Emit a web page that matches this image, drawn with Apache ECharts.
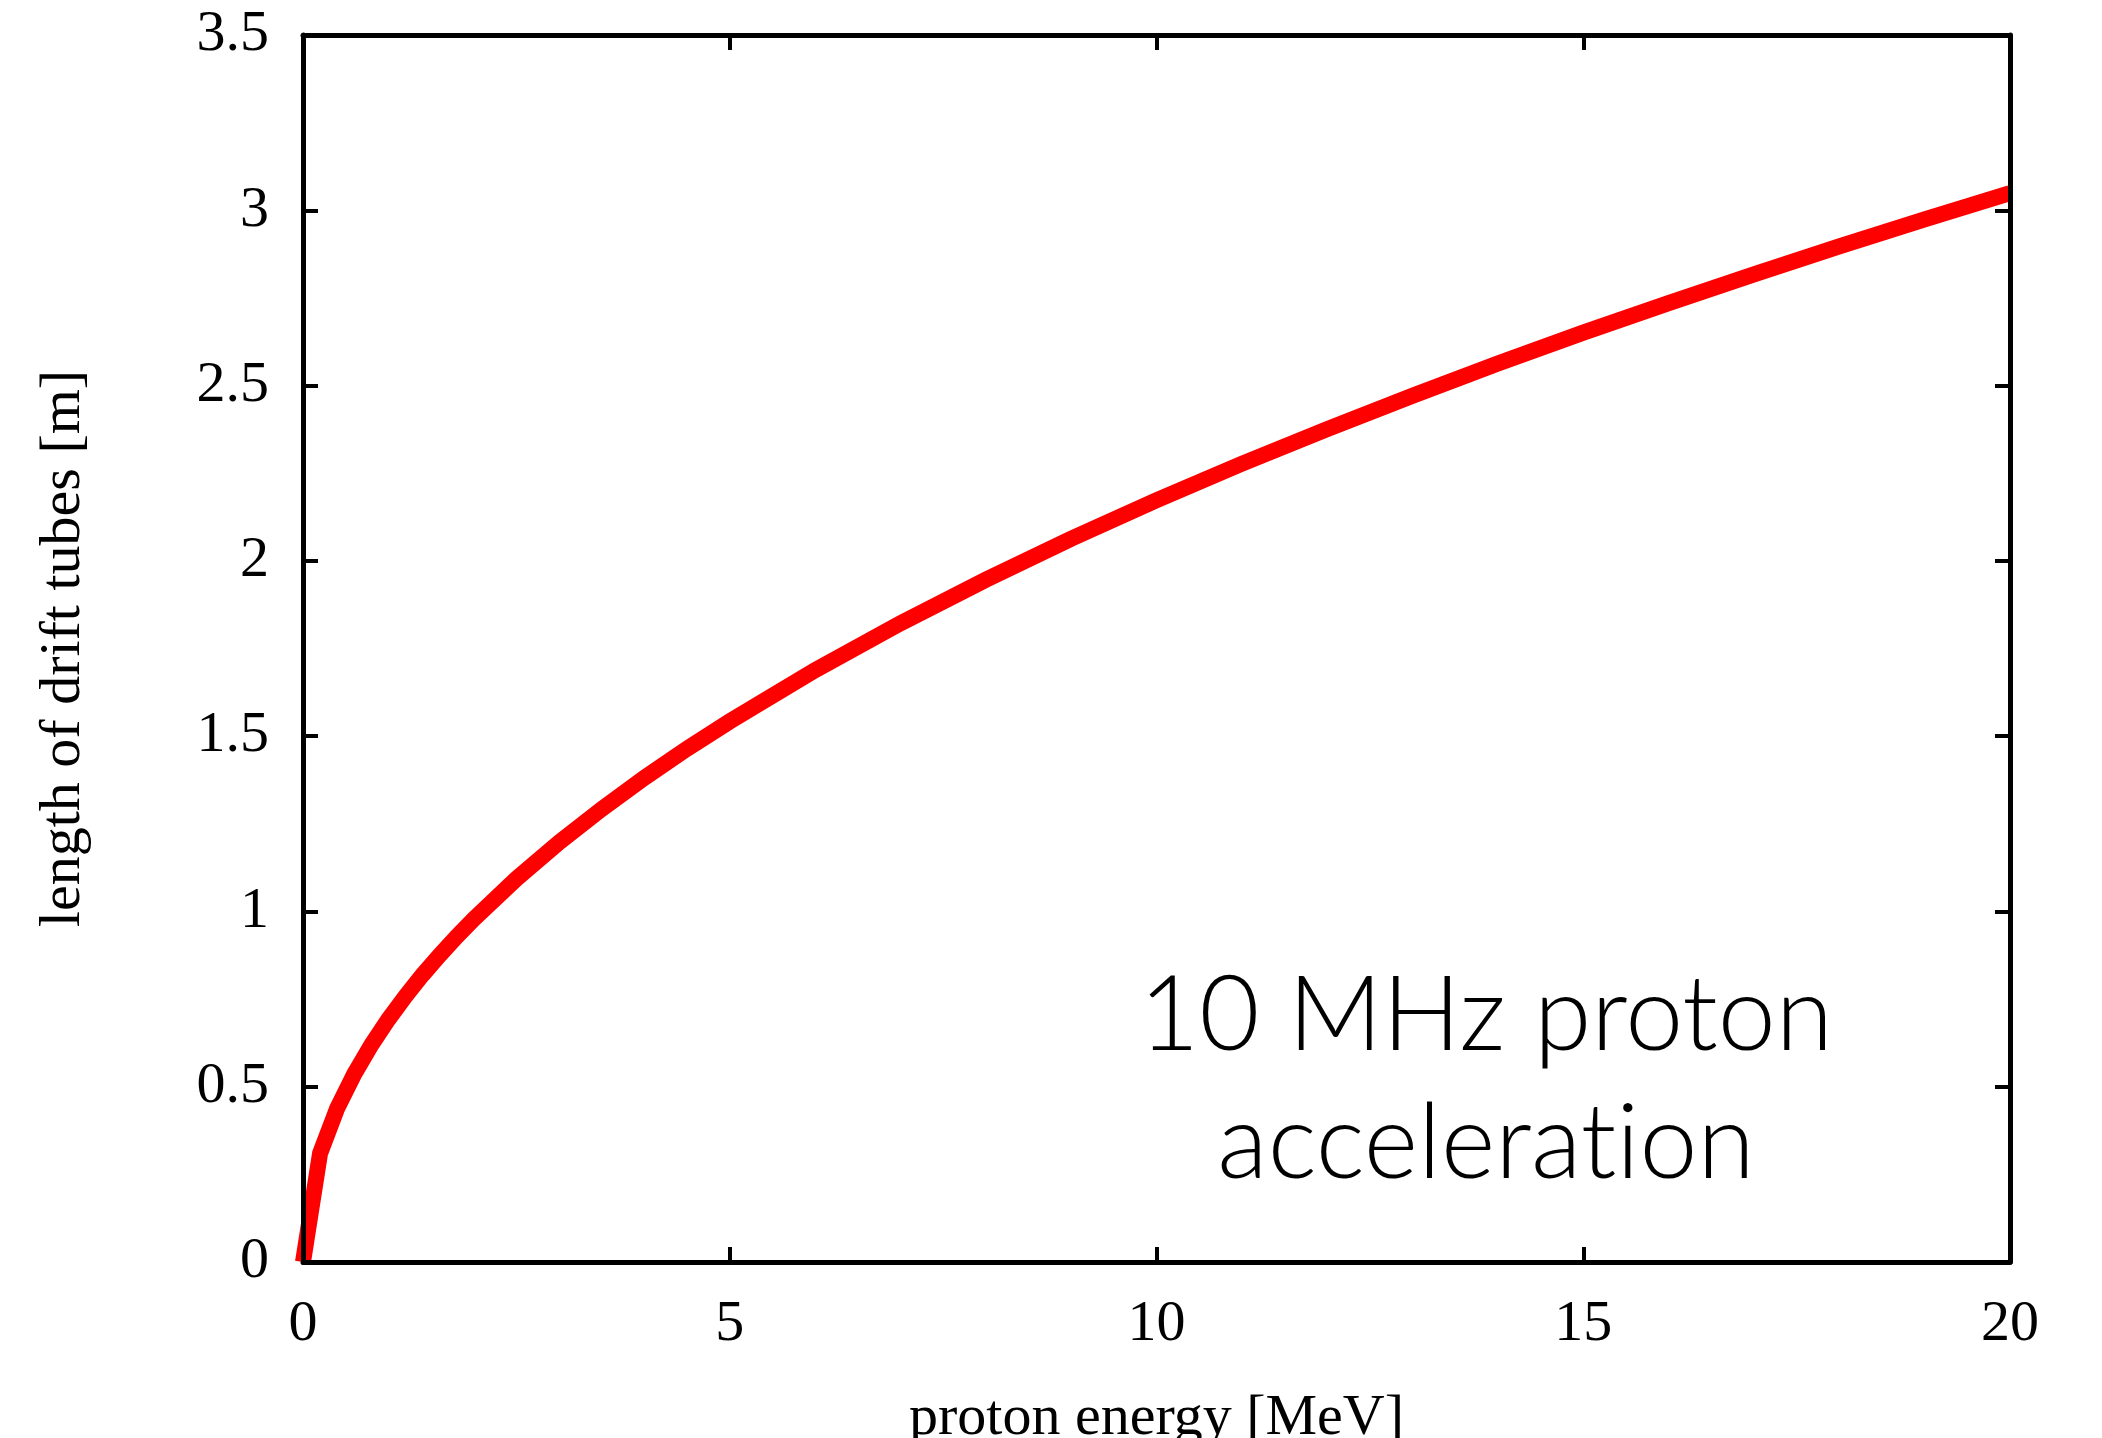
<!DOCTYPE html>
<html>
<head>
<meta charset="utf-8">
<script src="https://cdn.jsdelivr.net/npm/echarts@6/dist/echarts.min.js"></script>
<style>
html,body{margin:0;padding:0;background:#fff;}
#chart{width:2102px;height:1438px;}
</style>
</head>
<body>
<div id="chart"></div>
<script>
// proton energy [MeV]
const energy = [0, 0.2, 0.4, 0.6, 0.8, 1.0, 1.2, 1.4, 1.6, 1.8, 2.0, 2.5, 3, 3.5, 4, 4.5, 5, 6, 7, 8, 9, 10, 11, 12, 13, 14, 15, 16, 17, 18, 19, 20];
// length of drift tubes [m]
const tubeLength = [0, 0.310, 0.438, 0.536, 0.619, 0.692, 0.758, 0.819, 0.875, 0.928, 0.978, 1.093, 1.197, 1.292, 1.381, 1.464, 1.542, 1.688, 1.822, 1.946, 2.063, 2.173, 2.277, 2.376, 2.471, 2.563, 2.651, 2.735, 2.817, 2.897, 2.974, 3.049];
const xTicks = [0, 5, 10, 15, 20];
const yTicks = [0, 0.5, 1, 1.5, 2, 2.5, 3, 3.5];
const xTitle = 'proton energy [MeV]';
const yTitle = 'length of drift tubes [m]';
// zero-width non-joiner keeps the font from fusing "ti" into a ligature
const annotation = ['10 MHz proton', 'accelerat\u200Cion'];

const serif = '"Liberation Serif", "DejaVu Serif", serif';
const chart = echarts.init(document.getElementById('chart'));
const lineStyleAxis = { color: '#000', width: 5 };
const tickIn = { show: true, inside: true, length: 15, lineStyle: { color: '#000', width: 4 } };

chart.setOption({
  animation: false,
  backgroundColor: '#fff',
  grid: { left: 303, right: 92, top: 35, bottom: 176, containLabel: false, outerBoundsMode: 'none' },
  xAxis: [
    {
      type: 'value', position: 'bottom', min: xTicks[0], max: xTicks[xTicks.length - 1], interval: 5,
      axisLine: { show: true, onZero: false, lineStyle: lineStyleAxis },
      axisTick: tickIn,
      axisLabel: { fontFamily: serif, fontSize: 58, color: '#000', margin: 34 },
      splitLine: { show: false },
      name: xTitle, nameLocation: 'middle', nameGap: 128,
      nameTextStyle: { fontFamily: serif, fontSize: 58, color: '#000' },
      z: 5
    },
    {
      type: 'value', position: 'top', min: xTicks[0], max: xTicks[xTicks.length - 1], interval: 5,
      axisLine: { show: true, onZero: false, lineStyle: lineStyleAxis },
      axisTick: tickIn, axisLabel: { show: false }, splitLine: { show: false }, z: 5
    }
  ],
  yAxis: [
    {
      type: 'value', position: 'left', min: yTicks[0], max: yTicks[yTicks.length - 1], interval: 0.5,
      axisLine: { show: true, onZero: false, lineStyle: lineStyleAxis },
      axisTick: tickIn,
      axisLabel: { fontFamily: serif, fontSize: 58, color: '#000', margin: 34 },
      splitLine: { show: false },
      name: yTitle, nameLocation: 'middle', nameGap: 210, nameRotate: 90,
      nameTextStyle: { fontFamily: serif, fontSize: 58, color: '#000' },
      z: 5
    },
    {
      type: 'value', position: 'right', min: yTicks[0], max: yTicks[yTicks.length - 1], interval: 0.5,
      axisLine: { show: true, onZero: false, lineStyle: lineStyleAxis },
      axisTick: tickIn, axisLabel: { show: false }, splitLine: { show: false }, z: 5
    }
  ],
  series: [{
    type: 'line',
    xAxisIndex: 0, yAxisIndex: 0,
    data: energy.map((e, i) => [e, tubeLength[i]]),
    showSymbol: false,
    clip: false,
    smooth: false,
    lineStyle: { color: '#ff0000', width: 16, cap: 'butt', join: 'miter' },
    z: 2
  }],
  graphic: [{
    type: 'text',
    x: 1486, y: 952,
    style: {
      text: annotation.join('\n'),
      textAlign: 'center',
      textVerticalAlign: 'top',
      fontFamily: 'Lato, "Open Sans", sans-serif',
      fontWeight: 300,
      fontSize: 104,
      lineHeight: 128,
      fill: '#000'
    }
  }]
});
</script>
</body>
</html>
